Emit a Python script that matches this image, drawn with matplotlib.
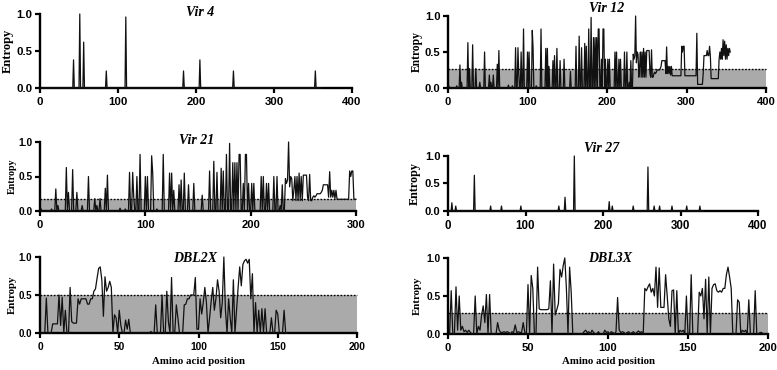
import numpy as np
import matplotlib
matplotlib.use("Agg")
import matplotlib.pyplot as plt

# ---------------- data ----------------
titles = ["Vir 4", "Vir 12", "Vir 21", "Vir 27", "DBL2X", "DBL3X"]

vir4_length = 360
vir4_pos = [43, 51, 56, 85, 110, 184, 205, 248, 353]
vir4_val = [0.38, 1.0, 0.62, 0.23, 0.96, 0.23, 0.38, 0.23, 0.23]

vir27_length = 330
vir27_pos = [5, 10, 34, 55, 69, 94, 143, 151, 163, 208, 212, 239, 258, 266, 273, 289, 308, 325]
vir27_val = [0.15, 0.09, 0.65, 0.09, 0.09, 0.09, 0.09, 0.25, 1.0, 0.17, 0.09, 0.09, 0.80,
             0.09, 0.09, 0.09, 0.09, 0.09]

# entropy per position (x100), positions 1..355
vir12_entropy_pct = [
    3, 0, 0, 0, 0, 0, 0, 0, 0, 0,
    3, 0, 0, 0, 32, 0, 8, 0, 0, 0,
    0, 0, 0, 0, 63, 0, 27, 0, 0, 0,
    60, 0, 0, 0, 27, 0, 0, 0, 0, 8,
    0, 0, 0, 0, 0, 50, 0, 0, 0, 0,
    0, 18, 0, 8, 0, 0, 18, 0, 0, 0,
    0, 33, 0, 52, 0, 0, 0, 0, 0, 0,
    0, 0, 0, 0, 0, 4, 0, 0, 0, 0,
    3, 0, 0, 0, 56, 0, 0, 56, 20, 0,
    0, 50, 0, 0, 82, 0, 0, 0, 0, 50,
    0, 50, 0, 0, 0, 80, 55, 0, 0, 0,
    3, 0, 0, 0, 0, 0, 82, 0, 0, 0,
    0, 0, 55, 0, 55, 0, 30, 0, 0, 0,
    0, 38, 0, 45, 0, 0, 55, 0, 0, 0,
    38, 0, 0, 0, 0, 40, 0, 0, 0, 0,
    0, 0, 0, 23, 0, 0, 0, 0, 0, 0,
    58, 0, 0, 0, 72, 0, 0, 56, 0, 0,
    0, 62, 0, 58, 0, 0, 82, 0, 0, 98,
    0, 0, 70, 0, 70, 0, 70, 0, 82, 82,
    0, 0, 40, 0, 82, 82, 0, 40, 0, 0,
    40, 0, 40, 0, 0, 0, 0, 0, 0, 50,
    0, 50, 0, 0, 40, 0, 40, 0, 0, 0,
    0, 50, 0, 0, 50, 0, 0, 8, 0, 38,
    0, 0, 47, 40, 45, 100, 35, 50, 47, 15,
    30, 50, 15, 50, 15, 55, 15, 50, 15, 52,
    52, 52, 52, 20, 15, 53, 15, 15, 20, 22,
    20, 22, 25, 25, 25, 25, 27, 30, 38, 38,
    38, 38, 38, 20, 57, 20, 30, 20, 30, 18,
    30, 17, 17, 17, 17, 17, 17, 17, 17, 17,
    17, 17, 17, 58, 50, 58, 58, 17, 17, 17,
    17, 17, 17, 17, 17, 17, 17, 17, 17, 17,
    17, 17, 76, 5, 5, 5, 5, 5, 5, 5,
    20, 45, 45, 45, 45, 52, 45, 45, 58, 45,
    13, 13, 13, 13, 13, 13, 13, 13, 13, 13,
    40, 50, 40, 55, 40, 67, 45, 65, 40, 60,
    40, 55, 45, 55, 50,
]
# Vir 21 follows the same profile over positions 1..300
vir21_entropy_pct = vir12_entropy_pct[:300]

# positions 1..156
dbl2x_entropy_pct = [
    0, 0, 0, 46, 0, 0, 0, 12, 12, 12,
    12, 50, 10, 47, 0, 30, 0, 0, 60, 15,
    13, 13, 13, 45, 38, 45, 45, 45, 45, 38,
    38, 45, 45, 55, 58, 72, 85, 87, 70, 22,
    74, 55, 60, 68, 60, 0, 24, 20, 0, 30,
    10, 0, 0, 17, 5, 18, 0, 0, 0, 0,
    0, 0, 0, 0, 0, 0, 0, 0, 0, 2,
    0, 0, 37, 0, 0, 0, 50, 0, 0, 55,
    15, 0, 73, 0, 0, 37, 20, 0, 0, 0,
    37, 38, 45, 45, 50, 50, 50, 73, 5, 5,
    45, 25, 40, 60, 40, 0, 20, 42, 60, 30,
    45, 70, 55, 20, 40, 100, 30, 0, 45, 20,
    0, 70, 0, 30, 60, 87, 62, 90, 95, 97,
    92, 97, 45, 78, 0, 40, 0, 30, 0, 32,
    0, 32, 0, 0, 0, 20, 0, 0, 30, 25,
    0, 0, 0, 30, 0, 0,
]

# positions 1..200
dbl3x_entropy_pct = [
    0, 57, 0, 0, 62, 5, 50, 5, 10, 3,
    5, 2, 5, 2, 0, 0, 50, 0, 10, 5,
    25, 37, 15, 52, 0, 52, 0, 0, 0, 0,
    15, 5, 2, 2, 3, 2, 3, 2, 0, 3,
    2, 12, 2, 3, 2, 2, 15, 2, 0, 65,
    0, 77, 60, 0, 0, 88, 33, 32, 32, 32,
    32, 32, 33, 70, 0, 92, 25, 32, 40, 85,
    75, 90, 100, 60, 0, 88, 55, 0, 0, 0,
    0, 0, 0, 0, 3, 5, 2, 3, 0, 5,
    2, 0, 0, 3, 0, 0, 0, 5, 2, 3,
    0, 3, 2, 0, 3, 48, 5, 2, 3, 2,
    0, 2, 3, 0, 2, 3, 0, 2, 4, 2,
    3, 0, 60, 57, 62, 66, 55, 60, 50, 88,
    35, 87, 35, 35, 35, 78, 50, 20, 10, 57,
    58, 0, 57, 0, 5, 3, 5, 0, 50, 0,
    0, 78, 0, 0, 0, 0, 55, 50, 60, 20,
    72, 0, 75, 0, 60, 65, 66, 57, 55, 57,
    55, 60, 60, 78, 88, 75, 60, 0, 0, 0,
    45, 42, 0, 5, 3, 5, 0, 45, 0, 0,
    0, 57, 0, 0, 2, 2, 0, 0, 0, 0,
]

thresholds = {"Vir 12": 0.26, "Vir 21": 0.17, "DBL2X": 0.50, "DBL3X": 0.27}
x_max = {"Vir 4": 400, "Vir 12": 400, "Vir 21": 300, "Vir 27": 400, "DBL2X": 200, "DBL3X": 200}
x_step = {"Vir 4": 100, "Vir 12": 100, "Vir 21": 100, "Vir 27": 100, "DBL2X": 50, "DBL3X": 50}
y_ticks = [0.0, 0.5, 1.0]


def spike_series(length, pos, val):
    y = np.zeros(length)
    for p, v in zip(pos, val):
        y[p - 1] = v
    return np.arange(1, length + 1), y


def pct_series(pct):
    return np.arange(1, len(pct) + 1), np.asarray(pct, dtype=float) / 100.0


series = {
    "Vir 4": spike_series(vir4_length, vir4_pos, vir4_val),
    "Vir 12": pct_series(vir12_entropy_pct),
    "Vir 21": pct_series(vir21_entropy_pct),
    "Vir 27": spike_series(vir27_length, vir27_pos, vir27_val),
    "DBL2X": pct_series(dbl2x_entropy_pct),
    "DBL3X": pct_series(dbl3x_entropy_pct),
}

# ---------------- layout (pixels) ----------------
W, H = 777, 370
# x0, x1, ytop, ybottom of the axes box
rects = {
    "Vir 4": (40, 352, 14, 88),
    "Vir 12": (448, 766, 16, 88),
    "Vir 21": (40, 356, 142, 211),
    "Vir 27": (448, 758, 156, 211),
    "DBL2X": (40, 357, 257, 333),
    "DBL3X": (448, 768, 258, 334),
}
title_xy = {
    "Vir 4": (200, 13), "Vir 12": (607, 8), "Vir 21": (197, 141),
    "Vir 27": (602, 149), "DBL2X": (195, 259), "DBL3X": (610, 259),
}
ylab_xy = {
    "Vir 4": (8, 51, 9.0), "Vir 12": (417, 52, 8.3), "Vir 21": (12, 176, 7.2),
    "Vir 27": (415, 183, 8.7), "DBL2X": (12.5, 295, 7.8), "DBL3X": (417.5, 296, 7.8),
}
tick_fs = {
    "Vir 4": (8.2, 8.2), "Vir 12": (8.0, 8.0), "Vir 21": (8.0, 7.4),
    "Vir 27": (8.3, 8.0), "DBL2X": (7.4, 7.0), "DBL3X": (8.0, 7.4),
}

SANS = "Liberation Sans"
SERIF = "Liberation Serif"

fig = plt.figure(figsize=(W / 100, H / 100), dpi=100)

for name in titles:
    x0, x1, yt, yb = rects[name]
    ax = fig.add_axes([x0 / W, 1 - yb / H, (x1 - x0) / W, (yb - yt) / H])
    xm = x_max[name]
    x, y = series[name]
    if name in thresholds:
        thr = thresholds[name]
        ax.fill_between([0, xm], 0, thr, color="#aaaaaa", lw=0, zorder=1)
        ax.plot([0, xm], [thr, thr], color="black", lw=1.0,
                ls=(0, (1.2, 1.2)), zorder=2, clip_on=False)
    ax.plot(x, y, color="#111111", lw=0.9, zorder=3, clip_on=False)
    ax.set_xlim(0, xm)
    ax.set_ylim(0, 1.0)
    ax.set_xticks(np.arange(0, xm + 1, x_step[name]))
    ax.set_yticks(y_ticks)
    ax.set_yticklabels([f"{v:.1f}" for v in y_ticks])
    for s in ("top", "right"):
        ax.spines[s].set_visible(False)
    for s in ("left", "bottom"):
        ax.spines[s].set_linewidth(1.7)
        ax.spines[s].set_color("black")
    xfs, yfs = tick_fs[name]
    ax.tick_params(axis="both", direction="out", length=3.5, width=1.6, color="black")
    ax.tick_params(axis="x", labelsize=xfs, pad=3)
    ax.tick_params(axis="y", labelsize=yfs, pad=2)
    for lab in ax.get_xticklabels() + ax.get_yticklabels():
        lab.set_fontfamily(SANS)
        lab.set_fontweight("bold")
    ax.set_facecolor("none")

    tx, ty = title_xy[name]
    fig.text(tx / W, 1 - ty / H, name, ha="center", va="center",
             family=SERIF, weight="bold", style="italic", fontsize=10)
    lx, ly, lfs = ylab_xy[name]
    fig.text(lx / W, 1 - ly / H, "Entropy", ha="center", va="center", rotation=90,
             family=SERIF, weight="bold", fontsize=lfs)

for cx in (198, 608):
    fig.text(cx / W, 1 - 362 / H, "Amino acid position", ha="center", va="center",
             family=SERIF, weight="bold", fontsize=7.8)

fig.savefig("out.png", dpi=100, facecolor="white")
